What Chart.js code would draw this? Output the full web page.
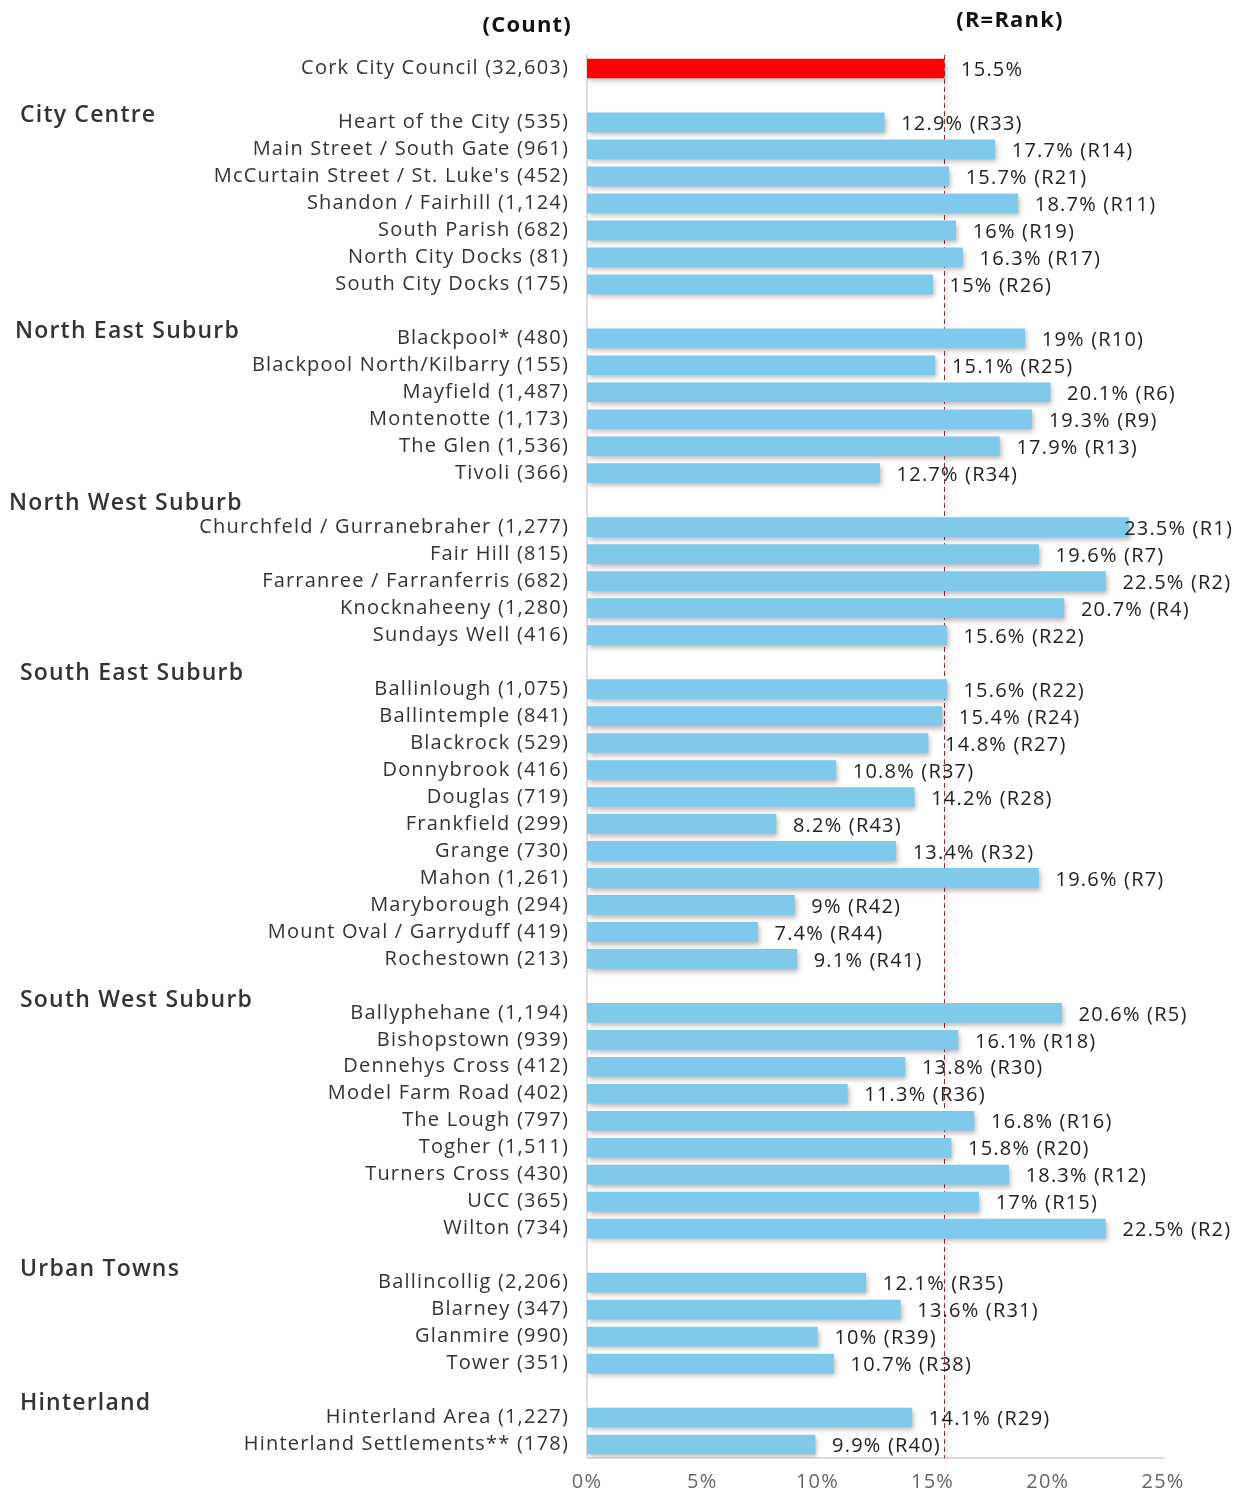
<!DOCTYPE html>
<html>
<head>
<meta charset="utf-8">
<script src="https://cdn.jsdelivr.net/npm/chart.js"></script>
<style>
  html, body { margin: 0; padding: 0; background: #fff; }
  #wrap { width: 1239px; height: 1490px; position: relative; }
</style>
</head>
<body>
<div id="wrap"><canvas id="c" width="1239" height="1490"></canvas></div>
<script>
// ---- data ----
const categories = [
  "Cork City Council (32,603)",
  "",
  "Heart of the City (535)",
  "Main Street / South Gate (961)",
  "McCurtain Street / St. Luke's (452)",
  "Shandon / Fairhill (1,124)",
  "South Parish (682)",
  "North City Docks (81)",
  "South City Docks (175)",
  "",
  "Blackpool* (480)",
  "Blackpool North/Kilbarry (155)",
  "Mayfield (1,487)",
  "Montenotte (1,173)",
  "The Glen (1,536)",
  "Tivoli (366)",
  "",
  "Churchfeld / Gurranebraher (1,277)",
  "Fair Hill (815)",
  "Farranree / Farranferris (682)",
  "Knocknaheeny (1,280)",
  "Sundays Well (416)",
  "",
  "Ballinlough (1,075)",
  "Ballintemple (841)",
  "Blackrock (529)",
  "Donnybrook (416)",
  "Douglas (719)",
  "Frankfield (299)",
  "Grange (730)",
  "Mahon (1,261)",
  "Maryborough (294)",
  "Mount Oval / Garryduff (419)",
  "Rochestown (213)",
  "",
  "Ballyphehane (1,194)",
  "Bishopstown (939)",
  "Dennehys Cross (412)",
  "Model Farm Road (402)",
  "The Lough (797)",
  "Togher (1,511)",
  "Turners Cross (430)",
  "UCC (365)",
  "Wilton (734)",
  "",
  "Ballincollig (2,206)",
  "Blarney (347)",
  "Glanmire (990)",
  "Tower (351)",
  "",
  "Hinterland Area (1,227)",
  "Hinterland Settlements** (178)"
];
const values = [
  15.5, null,
  12.9, 17.7, 15.7, 18.7, 16, 16.3, 15, null,
  19, 15.1, 20.1, 19.3, 17.9, 12.7, null,
  23.5, 19.6, 22.5, 20.7, 15.6, null,
  15.6, 15.4, 14.8, 10.8, 14.2, 8.2, 13.4, 19.6, 9, 7.4, 9.1, null,
  20.6, 16.1, 13.8, 11.3, 16.8, 15.8, 18.3, 17, 22.5, null,
  12.1, 13.6, 10, 10.7, null,
  14.1, 9.9
];
const ranks = [
  null, null,
  33, 14, 21, 11, 19, 17, 26, null,
  10, 25, 6, 9, 13, 34, null,
  1, 7, 2, 4, 22, null,
  22, 24, 27, 37, 28, 43, 32, 7, 42, 44, 41, null,
  5, 18, 30, 36, 16, 20, 12, 15, 2, null,
  35, 31, 39, 38, null,
  29, 40
];
const groupHeaders = ["City Centre", "North East Suburb", "North West Suburb", "South East Suburb", "South West Suburb", "Urban Towns", "Hinterland"];
const headerRows = [1, 9, 16, 22, 34, 44, 49];          // the blank row each header sits in
const councilAverage = 15.5;
const xTicks = [0, 5, 10, 15, 20, 25];

// ---- layout / style (not data) ----
const headerDy = [20, 20, 3, 11, 15, 14, 13];
const headerX = [20, 15, 9, 20, 20, 20, 20];
const FONT = "'Open Sans', sans-serif";
const SPACING = '1.2px';
const barColors = values.map((v, i) => i === 0 ? '#FF0000' : '#7FC9EB');

const spacingPlugin = {
  id: 'spacing',
  beforeUpdate(chart) { chart.ctx.letterSpacing = SPACING; },
  beforeLayout(chart) { chart.ctx.letterSpacing = SPACING; },
  beforeDraw(chart) { chart.ctx.letterSpacing = SPACING; }
};

const shadowPlugin = {
  id: 'shadow',
  beforeDatasetsDraw(chart) {
    const ctx = chart.ctx;
    ctx.save();
    ctx.shadowColor = 'rgba(0,0,0,0.28)';
    ctx.shadowBlur = 5;
    ctx.shadowOffsetX = 2;
    ctx.shadowOffsetY = 3;
  },
  afterDatasetsDraw(chart) {
    chart.ctx.restore();
  }
};

const refLinePlugin = {
  id: 'refLine',
  beforeDatasetsDraw(chart) {
    const {ctx, chartArea, scales} = chart;
    const x = Math.round(scales.x.getPixelForValue(councilAverage)) + 0.5;
    ctx.save();
    ctx.strokeStyle = '#A3262E';
    ctx.lineWidth = 1;
    ctx.setLineDash([5, 3]);
    ctx.beginPath();
    ctx.moveTo(x, chartArea.top);
    ctx.lineTo(x, chartArea.bottom);
    ctx.stroke();
    ctx.restore();
  }
};

const labelsPlugin = {
  id: 'valueLabels',
  afterDatasetsDraw(chart) {
    const {ctx} = chart;
    const meta = chart.getDatasetMeta(0);
    ctx.save();
    ctx.letterSpacing = SPACING;
    ctx.font = "20px " + FONT;
    ctx.fillStyle = '#222';
    ctx.textBaseline = 'middle';
    ctx.textAlign = 'left';
    meta.data.forEach((bar, i) => {
      const v = values[i];
      if (v === null || v === undefined) return;
      const txt = v + '%' + (ranks[i] ? ' (R' + ranks[i] + ')' : '');
      const w = ctx.measureText(txt).width;
      let x = bar.x + 17;
      const maxX = chart.width - 6 - w;
      if (x > maxX) x = maxX;
      ctx.fillText(txt, x, bar.y + 2);
    });
    ctx.restore();
  }
};

const headersPlugin = {
  id: 'headers',
  afterDraw(chart) {
    const {ctx, scales} = chart;
    ctx.save();
    ctx.letterSpacing = SPACING;
    ctx.fillStyle = '#333';
    ctx.textBaseline = 'middle';
    ctx.textAlign = 'left';
    ctx.font = "600 23px " + FONT;
    groupHeaders.forEach((h, k) => {
      const y = scales.y.getPixelForValue(headerRows[k]) + headerDy[k];
      ctx.fillText(h, headerX[k], y);
    });
    ctx.font = "bold 22px " + FONT;
    ctx.fillStyle = '#111';
    ctx.textAlign = 'right';
    ctx.fillText('(Count)', 572, 26);
    ctx.textAlign = 'center';
    ctx.fillText('(R=Rank)', 1010, 21);
    ctx.restore();
  }
};

new Chart(document.getElementById('c'), {
  type: 'bar',
  data: {
    labels: categories,
    datasets: [{
      data: values,
      backgroundColor: barColors,
      borderWidth: 0,
      barThickness: 19
    }]
  },
  options: {
    indexAxis: 'y',
    responsive: false,
    animation: false,
    layout: { padding: { left: 0, right: 76, top: 55, bottom: 0 } },
    plugins: { legend: { display: false }, tooltip: { enabled: false } },
    scales: {
      x: {
        min: 0, max: 25,
        afterBuildTicks(scale) { scale.ticks = xTicks.map(v => ({value: v})); },
        afterFit(scale) { scale.height = 32; },
        ticks: {
          callback: v => v + '%',
          color: '#666',
          font: { family: FONT, size: 20 },
          padding: 12,
          maxRotation: 0
        },
        grid: { display: false, drawTicks: false },
        border: { display: true, color: '#DDDDDD', width: 2 }
      },
      y: {
        afterFit(scale) { scale.width = 587; },
        ticks: {
          color: '#333',
          font: { family: FONT, size: 20 },
          padding: 18,
          autoSkip: false
        },
        grid: { display: false, drawTicks: false },
        border: { display: true, color: '#DDDDDD', width: 2 }
      }
    }
  },
  plugins: [spacingPlugin, shadowPlugin, refLinePlugin, labelsPlugin, headersPlugin]
});
</script>
</body>
</html>
